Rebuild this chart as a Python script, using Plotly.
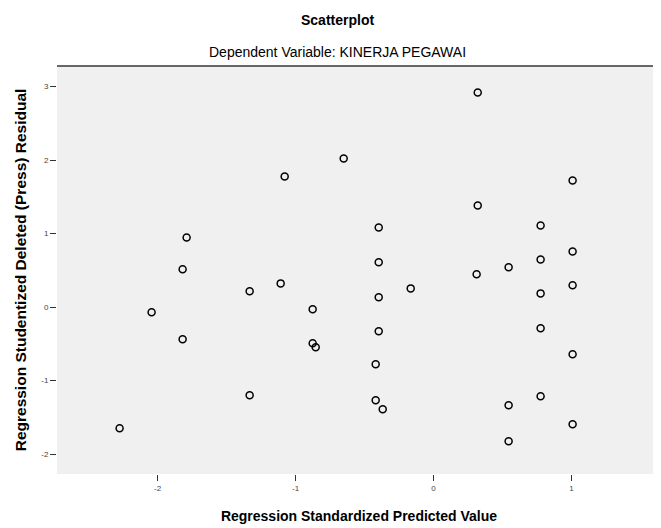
import plotly.graph_objects as go

# Regression standardized predicted values (x) and studentized deleted residuals (y)
pred = [-2.276, -2.044, -1.819, -1.819, -1.790, -1.333, -1.333, -1.108, -1.079,
        -0.876, -0.876, -0.854, -0.651, -0.419, -0.419, -0.397, -0.397, -0.397,
        -0.397, -0.368, -0.165, 0.321, 0.321, 0.313, 0.545, 0.545, 0.545,
        0.777, 0.777, 0.777, 0.777, 0.777, 1.009, 1.009, 1.009, 1.009, 1.009]
resid = [-1.647, -0.071, -0.438, 0.514, 0.948, 0.215, -1.198, 0.323, 1.777,
         -0.030, -0.492, -0.546, 2.022, -0.777, -1.266, 1.084, 0.609, 0.133,
         -0.329, -1.389, 0.255, 2.918, 1.383, 0.446, 0.541, -1.334, -1.823,
         1.111, 0.649, 0.187, -0.288, -1.212, 1.723, 0.758, 0.296, -0.641, -1.592]

x_ticks = [-2, -1, 0, 1]
y_ticks = [3, 2, 1, 0, -1, -2]

title = "Scatterplot"
subtitle = "Dependent Variable: KINERJA PEGAWAI"
x_title = "Regression Standardized Predicted Value"
y_title = "Regression Studentized Deleted (Press) Residual"

fig = go.Figure()
fig.add_trace(go.Scatter(
    x=pred, y=resid, mode="markers",
    marker=dict(symbol="circle-open", size=7, color="black", line=dict(width=1.5)),
    showlegend=False, hoverinfo="x+y"))

font = "Liberation Sans, Arial, sans-serif"
fig.update_layout(
    width=653, height=520,
    margin=dict(l=49, r=0, t=58, b=54),
    paper_bgcolor="white", plot_bgcolor="#f0f0f0",
    font=dict(family=font, size=14, color="black"),
    xaxis=dict(range=[-2.73, 1.65], tickvals=x_ticks, ticktext=[str(v) for v in x_ticks],
               showgrid=False, zeroline=False, ticks="outside", ticklen=6, tickwidth=1.2,
               tickcolor="#333", tickfont=dict(size=8, color="#444"), showline=False,
               title=dict(text="<b>" + x_title + "</b>", font=dict(size=14), standoff=19)),
    yaxis=dict(range=[-2.27, 3.28], tickvals=y_ticks, ticktext=[str(v) for v in y_ticks],
               showgrid=False, zeroline=False, ticks="outside", ticklen=6, tickwidth=1.2,
               tickcolor="#333", tickfont=dict(size=8, color="#444"), showline=False,
               title=dict(text="<b>" + y_title + "</b>", font=dict(size=15.5), standoff=10)),
    annotations=[
        dict(text="<b>" + title + "</b>", xref="paper", yref="paper", x=0.4636, y=1,
             yshift=46, showarrow=False, xanchor="center", yanchor="middle",
             font=dict(size=14)),
        dict(text=subtitle, xref="paper", yref="paper", x=0.4636, y=1,
             yshift=14, showarrow=False, xanchor="center", yanchor="middle",
             font=dict(size=14)),
    ],
    shapes=[dict(type="line", xref="paper", yref="paper", x0=0, x1=1, y0=1, y1=1,
                 line=dict(color="#666", width=2))],
)

fig.write_html("out.html")
